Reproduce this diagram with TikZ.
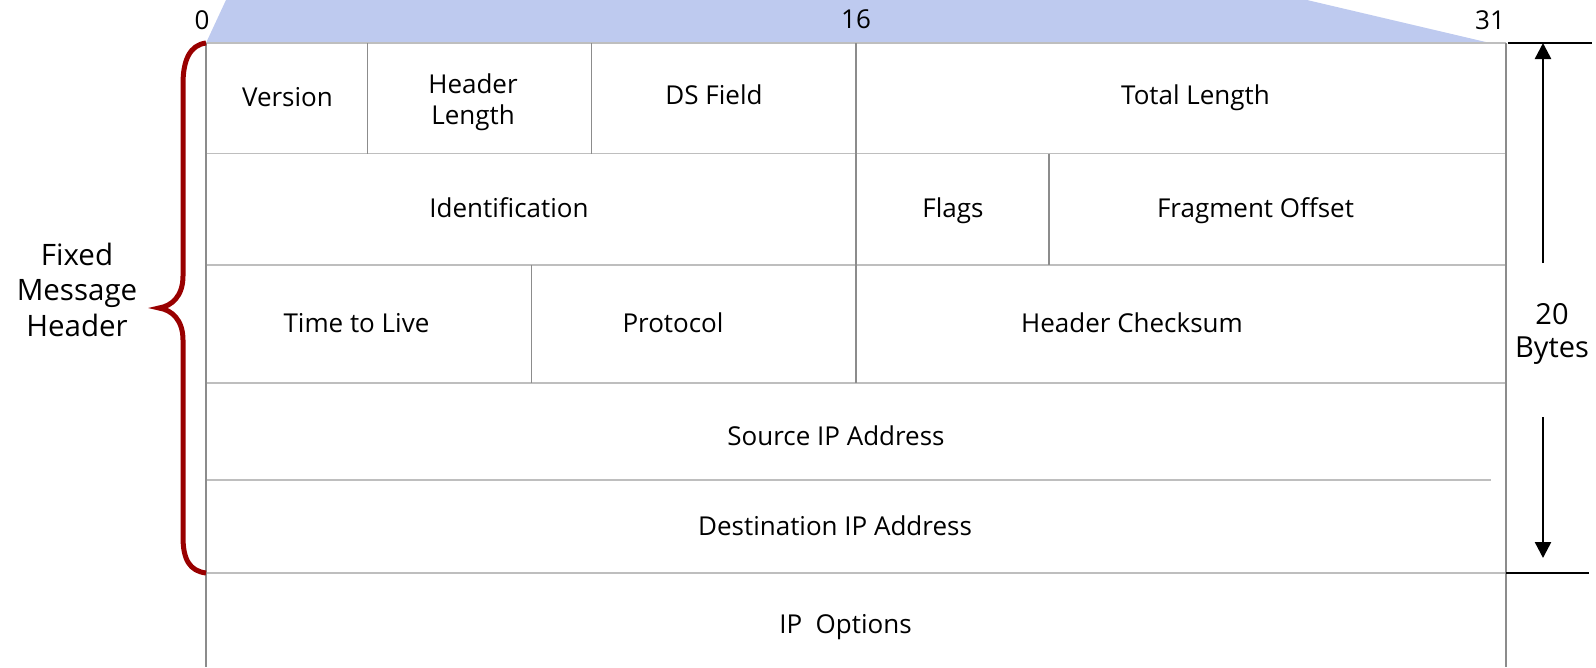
\documentclass[tikz,border=0pt]{standalone}
\usepackage{fontspec}
\setmainfont{Open Sans}
\usetikzlibrary{arrows.meta}
\definecolor{bandblue}{RGB}{190,202,239}
\definecolor{hline}{RGB}{190,190,190}
\definecolor{vline}{RGB}{140,140,140}
\definecolor{bracered}{RGB}{153,0,0}
\begin{document}
\begin{tikzpicture}[x=1pt,y=-1pt,
  lbl/.style={font=\fontsize{26}{31}\selectfont, inner sep=0pt, anchor=base, align=center},
  leftlbl/.style={font=\fontsize{29.5}{35.5}\selectfont, inner sep=0pt, anchor=base, align=center},
  rightlbl/.style={font=\fontsize{29}{32.5}\selectfont, inner sep=0pt, anchor=base, align=center},
  hrule/.style={draw=hline, line width=1.6pt},
  vrule/.style={draw=vline, line width=1.3pt},
  blackrule/.style={draw=black, line width=2.5pt},
  dimarrow/.style={draw=black, line width=2.5pt, -{Triangle[width=16pt,length=16pt]}},
  bracestyle/.style={draw=bracered, line width=5pt}
]
\useasboundingbox (0,0) rectangle (1596,667);
% top band
\fill[bandblue] (206,43) -- (226,0) -- (1307,0) -- (1490,43) -- cycle;
% table corner coordinates
\coordinate (tl) at (206,43);
\coordinate (tr) at (1506,43);
\coordinate (bl) at (206,667);
\coordinate (br) at (1506,667);
% horizontal rules
\draw[hrule] (206,43) -- (1506,43);
\draw[hrule] (206,153.5) -- (1506,153.5);
\draw[hrule] (206,265) -- (1506,265);
\draw[hrule] (206,383) -- (1506,383);
\draw[hrule] (206,480) -- (1491,480);
\draw[hrule] (206,573) -- (1506,573);
% vertical rules
\draw[vrule] (tl) -- (bl);
\draw[vrule] (tr) -- (br);
\draw[vrule] (367.5,43) -- (367.5,153.5);
\draw[vrule] (591.5,43) -- (591.5,153.5);
\draw[vrule] (856,43) -- (856,383);
\draw[vrule] (1049,153.5) -- (1049,265);
\draw[vrule] (531.5,265) -- (531.5,383);
% bit numbers
\node[lbl] (b0) at (202,29) {0};
\node[lbl] (b16) at (856,28) {16};
\node[lbl] (b31) at (1490,29) {31};
% fields (base anchor = baseline of last line)
\node[lbl] (ver) at (287.5,106) {Version};
\node[lbl] (hlen) at (473,124) {Header\\Length};
\node[lbl] (ds) at (714,104) {DS Field};
\node[lbl] (tlen) at (1195.5,104) {Total Length};
\node[lbl] (ident) at (509,217) {Identification};
\node[lbl] (flags) at (953,217) {Flags};
\node[lbl] (frag) at (1255.5,217) {Fragment Offset};
\node[lbl] (ttl) at (356.5,332) {Time to Live};
\node[lbl] (proto) at (673,332) {Protocol};
\node[lbl] (csum) at (1132,332) {Header Checksum};
\node[lbl] (src) at (836,445) {Source IP Address};
\node[lbl] (dst) at (835,535) {Destination IP Address};
\node[lbl] (opt) at (845.5,633) {IP~~Options};
% brace
\draw[bracestyle] (206,43) .. controls (190,45) and (183,60) .. (183,84)
  -- (183,276) .. controls (183,296) and (172,306) .. (159,308)
  .. controls (172,310) and (183,320) .. (183,340)
  -- (183,537) .. controls (183,560) and (190,571) .. (206,573);
\node[leftlbl] (fixed) at (77,336) {Fixed\\Message\\Header};
% right dimension
\coordinate (rt0) at (1508,43);
\coordinate (rt1) at (1592,43);
\coordinate (rb0) at (1506,573);
\coordinate (rb1) at (1589,573);
\draw[blackrule] (rt0) -- (rt1);
\draw[blackrule] (rb0) -- (rb1);
\coordinate (upstart) at (1543,263);
\coordinate (upend) at (1543,43);
\coordinate (dnstart) at (1543,417);
\coordinate (dnend) at (1543,558);
\draw[dimarrow] (upstart) -- (upend);
\draw[dimarrow] (dnstart) -- (dnend);
\node[rightlbl] (bytes) at (1552,357) {20\\Bytes};
\end{tikzpicture}
\end{document}
